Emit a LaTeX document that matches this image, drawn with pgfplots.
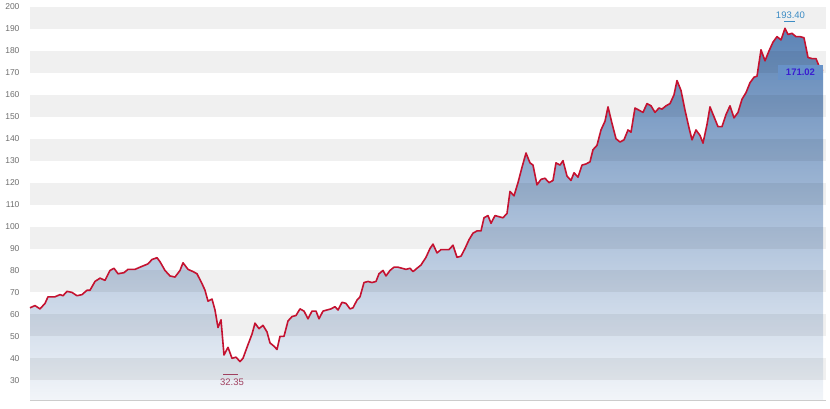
\documentclass[border=0pt]{standalone}
\usepackage{fontspec}
\setmainfont{Liberation Sans}
\usepackage{pgfplots}
\pgfplotsset{compat=1.18}
\usepackage{pgfplotstable}
\definecolor{linered}{RGB}{196,18,48}
\definecolor{topblue}{RGB}{92,132,182}
\definecolor{botblue}{RGB}{242,245,249}
\definecolor{tickgray}{RGB}{110,110,110}
\definecolor{maxblue}{RGB}{60,140,196}
\definecolor{minred}{RGB}{160,64,96}
\definecolor{boxblue}{RGB}{104,146,200}
\definecolor{boxtext}{RGB}{58,30,208}
\pgfplotstableread{
x y
30 63
35 64
40 62.5
45 65
48 68
55 68
60 69
63 68.5
67 70.5
72 70
77 68.5
82 69
87 71
90 71
95 75
100 76.5
105 75.5
110 80
114 81
118 78.5
124 79
128 80.5
135 80.5
140 81.5
148 83
152 85
157 85.8
160 84
165 80
170 77.5
175 77
180 80
183 83.5
188 80.5
193 79.5
197 78.5
202 74
205 71
208 66
212 67
215 62
218 54
221 57.5
224 41.5
228 45
232 40
236 40.5
240 38.5
243 40
247 45
252 51
255 56
259 53.5
263 55
267 52
270 47
274 45.5
277 44
280 50
284 50
288 57
292 59
296 59.5
300 62.5
304 61.5
308 58
312 61.5
316 61.5
319 58
323 61.5
327 62
331 62.5
335 63.5
338 62
342 65.5
346 65
350 62.5
353 63
357 66.5
360 68
364 74.5
368 75
372 74.5
376 75
379 78.5
383 80
386 77.5
390 80
394 81.5
398 81.5
402 81
406 80.5
410 81
413 79.5
417 81
421 82.5
426 86
430 90
433 92
437 88
441 89.5
445 89.5
449 89.5
453 91.5
457 86
461 86.5
465 90
469 94
473 97
477 98
481 98
484 104
488 105
491 101.5
495 105
499 104.5
503 104
507 106
510 116
514 114
518 120
522 127
526 133.5
530 129
533 128
537 119
541 121.5
545 122
549 120
553 121
556 129
560 128
563 130
567 123
571 121
574 124.5
578 122.5
582 128
586 128.5
590 129.5
593 135
597 137
601 144
605 148
608 154.5
612 147
616 140
620 138.5
624 139.5
628 144
631 143
635 154
639 153
643 152
647 156
651 155
655 152
659 154
662 153.5
666 155
670 156
674 160
677 166.5
681 162
685 153
689 145
692 139.5
696 144
700 141.5
703 138
707 146.5
710 154.5
714 150
718 145.5
722 145.5
726 151
730 155
734 149.5
738 152
742 158
746 161
750 165.5
754 168
757 168.5
761 180.5
765 175.5
769 180
773 184
777 186.5
781 185
785 190.3
788 187.5
792 188
796 186.5
800 186.5
804 186
808 177
812 176.5
816 176.5
820 172
823 171
}\prices
\begin{document}
\begin{tikzpicture}[x=1pt,y=1pt]
\begin{axis}[
  at={(30pt,8pt)}, anchor=south west,
  scale only axis, width=796pt, height=393pt,
  xmin=30, xmax=826, ymin=21, ymax=200,
  axis line style={draw=none},
  tick style={draw=none},
  xtick=\empty,
  ytick={30,40,...,200},
  major tick length=0pt,
  yticklabel style={font=\fontsize{8.5}{10}\selectfont, text=tickgray, xshift=-7pt},
  /pgf/number format/assume math mode=true,
  clip=false,
]
\addplot[draw=none, top color=topblue, bottom color=botblue] table[x=x,y=y]{\prices} \closedcycle;
\fill[black,opacity=0.06] (axis cs:30,190) rectangle (axis cs:826,200);
\fill[black,opacity=0.06] (axis cs:30,170) rectangle (axis cs:826,180);
\fill[black,opacity=0.06] (axis cs:30,150) rectangle (axis cs:826,160);
\fill[black,opacity=0.06] (axis cs:30,130) rectangle (axis cs:826,140);
\fill[black,opacity=0.06] (axis cs:30,110) rectangle (axis cs:826,120);
\fill[black,opacity=0.06] (axis cs:30,90) rectangle (axis cs:826,100);
\fill[black,opacity=0.06] (axis cs:30,70) rectangle (axis cs:826,80);
\fill[black,opacity=0.06] (axis cs:30,50) rectangle (axis cs:826,60);
\fill[black,opacity=0.06] (axis cs:30,30) rectangle (axis cs:826,40);
\draw[black!20, line width=0.8pt] (axis cs:30,21) -- (axis cs:826,21);
\addplot[linered, line width=1.6pt, line join=round] table[x=x,y=y]{\prices};
\draw[maxblue, line width=0.6pt] (axis cs:784,193.4) -- (axis cs:795,193.4);
\node[text=maxblue, font=\fontsize{9.5}{10}\selectfont] at (axis cs:790.5,196.2) {193.40};
\draw[minred, line width=0.6pt] (axis cs:223,32.6) -- (axis cs:238,32.6);
\node[text=minred, font=\fontsize{9.5}{10}\selectfont] at (axis cs:232,29.2) {32.35};
\node[fill=boxblue, text=boxtext, font=\bfseries\fontsize{9.5}{10}\selectfont, minimum width=45pt, minimum height=15pt, inner sep=0pt] at (axis cs:800.5,170.2) {171.02};
\end{axis}
\pgfresetboundingbox
\path[use as bounding box] (0,0) rectangle (830,408);
\end{tikzpicture}
\end{document}
